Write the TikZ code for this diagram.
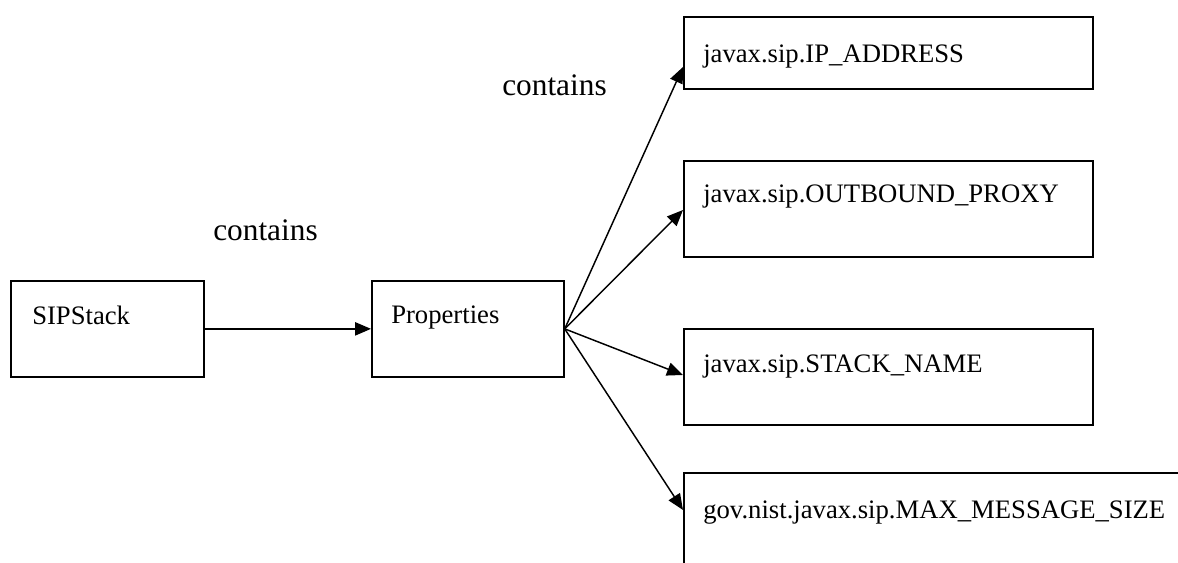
\documentclass[tikz,border=0pt]{standalone}
\usepackage{fontspec}
\setmainfont{Liberation Serif}
\usetikzlibrary{arrows.meta,calc}
\tikzset{
  box/.style={draw, line width=1.3pt, rectangle, inner sep=0pt, anchor=north west},
  boxtext/.style={anchor=base west, inner sep=0pt, font=\fontsize{20pt}{24pt}\selectfont},
  edgelabel/.style={anchor=base west, inner sep=0pt, font=\fontsize{23.5pt}{28pt}\selectfont},
  arr/.style={line width=1.1pt, -{Triangle[length=12pt,width=10pt]}}
}
\begin{document}
\begin{tikzpicture}[x=0.75pt,y=-0.75pt]
\clip (0,0) rectangle (1178,563);
\fill[white] (0,0) rectangle (1178,563);
% boxes
\node[box, minimum width=144.75pt, minimum height=72pt] (sip) at (10,280) {};
\node[box, minimum width=144pt, minimum height=72pt] (prop) at (371,280) {};
\node[box, minimum width=306.75pt, minimum height=54pt] (b1) at (683,16) {};
\node[box, minimum width=306.75pt, minimum height=72pt] (b2) at (683,160) {};
\node[box, minimum width=306.75pt, minimum height=72pt] (b3) at (683,328) {};
\node[box, minimum width=400pt, minimum height=100pt] (b4) at (683,472) {};
% texts
\node[boxtext] (siptxt) at ($(sip.north west)+(22,44)$) {SIPStack};
\node[boxtext] (proptxt) at ($(prop.north west)+(20,43)$) {Properties};
\node[boxtext] (b1txt) at ($(b1.north west)+(20,47)$) {javax.sip.IP\_ADDRESS};
\node[boxtext] (b2txt) at ($(b2.north west)+(20,43)$) {javax.sip.OUTBOUND\_PROXY};
\node[boxtext] (b3txt) at ($(b3.north west)+(20,44)$) {javax.sip.STACK\_NAME};
\node[boxtext] (b4txt) at ($(b4.north west)+(20,46)$) {gov.nist.javax.sip.MAX\_MESSAGE\_SIZE};
% edge labels
\node[edgelabel] (c1) at (213,240) {contains};
\node[edgelabel] (c2) at (502,96) {contains};
% arrow end points
\coordinate (t1) at ($(b1.north west)+(0,51)$);
\coordinate (t2) at ($(b2.north west)+(0,50)$);
\coordinate (t3) at ($(b3.north west)+(0,47)$);
\coordinate (t4) at ($(b4.north west)+(0,38)$);
% connectors
\draw[arr] (sip.east) -- (prop.west);
\draw[arr] (prop.east) -- (t1);
\draw[arr] (prop.east) -- (t2);
\draw[arr] (prop.east) -- (t3);
\draw[arr] (prop.east) -- (t4);
\end{tikzpicture}
\end{document}
